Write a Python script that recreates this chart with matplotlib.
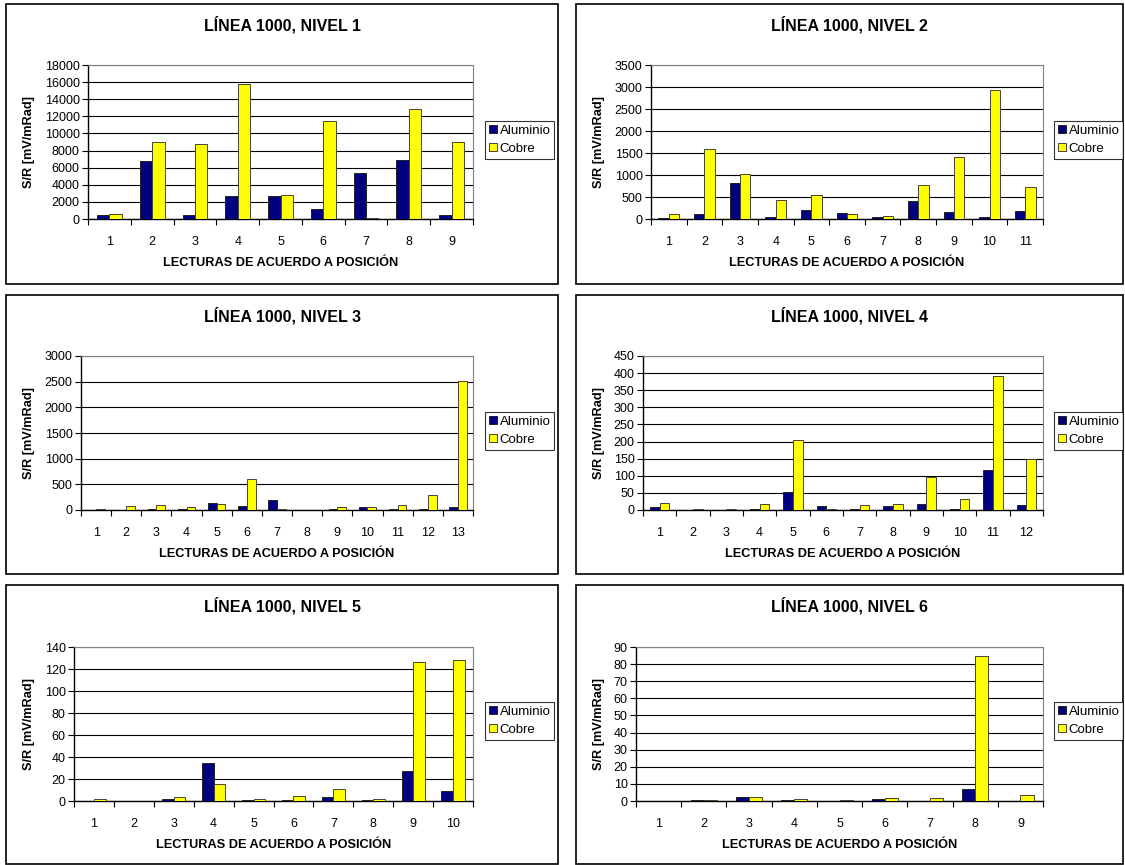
import matplotlib
matplotlib.use("Agg")
import matplotlib.pyplot as plt
from matplotlib.patches import Rectangle, Patch
import numpy as np

plt.rcParams['font.family'] = ['Liberation Sans', 'DejaVu Sans']

W, H = 1125, 865

titles = ["LÍNEA 1000, NIVEL 1", "LÍNEA 1000, NIVEL 2", "LÍNEA 1000, NIVEL 3",
          "LÍNEA 1000, NIVEL 4", "LÍNEA 1000, NIVEL 5", "LÍNEA 1000, NIVEL 6"]
series_names = ["Aluminio", "Cobre"]
xlabel = "LECTURAS DE ACUERDO A POSICIÓN"
ylabel = "S/R [mV/mRad]"

aluminio_n1 = [510, 6800, 510, 2650, 2650, 1220, 5400, 6900, 510]
cobre_n1 = [590, 9000, 8800, 15800, 2750, 11400, 170, 12800, 9000]

aluminio_n2 = [30, 114, 820, 53, 212, 144, 53, 417, 167, 53, 190]
cobre_n2 = [114, 1590, 1020, 440, 545, 114, 76, 780, 1410, 2930, 730]

aluminio_n3 = [5, 0, 12, 12, 140, 75, 190, 0, 12, 50, 12, 12, 50]
cobre_n3 = [15, 70, 105, 50, 120, 610, 15, 0, 50, 50, 105, 300, 2510]

aluminio_n4 = [8, 1, 1, 3, 52, 12, 3, 11, 18, 4, 118, 15]
cobre_n4 = [19, 3, 3, 17, 205, 3, 14, 17, 96, 31, 392, 150]

aluminio_n5 = [0, 0, 2, 35, 1, 1, 4, 1, 27, 9.3]
cobre_n5 = [2, 0, 4, 15.5, 2, 5, 11, 2, 126, 128]

aluminio_n6 = [0, 0.5, 2.3, 0.5, 0, 1.0, 0, 7, 0]
cobre_n6 = [0, 0.5, 2.3, 1.0, 0.5, 1.7, 1.7, 85, 3.5]

ymax = [18000, 3500, 3000, 450, 140, 90]
ystep = [2000, 500, 500, 50, 20, 10]

data = [(aluminio_n1, cobre_n1), (aluminio_n2, cobre_n2), (aluminio_n3, cobre_n3),
        (aluminio_n4, cobre_n4), (aluminio_n5, cobre_n5), (aluminio_n6, cobre_n6)]

# layout in pixels: panel box, axes box, legend box
boxes = [(6, 4, 558, 284), (576, 4, 1123, 284),
         (6, 295, 558, 574), (576, 295, 1123, 574),
         (6, 585, 558, 864), (576, 585, 1123, 864)]
axboxes = [(88, 65, 473, 219), (651, 65, 1043, 219),
           (81, 356, 473, 510), (643, 356, 1043, 510),
           (74, 647, 473, 801), (636, 647, 1043, 801)]
legpos = [(485, 121), (1054, 121), (485, 412), (1054, 412), (485, 702), (1054, 702)]

colors = ["#000080", "#FFFF00"]

fig = plt.figure(figsize=(W / 100, H / 100), dpi=100)


def fx(x):
    return x / W


def fy(y):
    return 1 - y / H


for i in range(6):
    bx0, by0, bx1, by1 = boxes[i]
    fig.add_artist(Rectangle((fx(bx0), fy(by1)), fx(bx1 - bx0), (by1 - by0) / H,
                             transform=fig.transFigure, fill=False,
                             edgecolor="black", linewidth=1.2))
    ax0, ay0, ax1, ay1 = axboxes[i]
    ax = fig.add_axes([fx(ax0), fy(ay1), fx(ax1 - ax0), (ay1 - ay0) / H])
    al, cu = data[i]
    n = len(al)
    x = np.arange(1, n + 1)
    bw = 0.29
    ax.bar(x - bw / 2, al, bw, color=colors[0], edgecolor="#222222", linewidth=0.7, zorder=3)
    ax.bar(x + bw / 2, cu, bw, color=colors[1], edgecolor="#444433", linewidth=0.7, zorder=3)
    ax.set_xlim(0.5, n + 0.5)
    ax.set_ylim(0, ymax[i])
    yt = np.arange(0, ymax[i] + ystep[i] / 2, ystep[i])
    ax.set_yticks(yt)
    ax.set_yticklabels([str(int(v)) for v in yt], fontsize=9)
    ax.yaxis.grid(True, color="black", linewidth=0.8, zorder=0)
    ax.set_axisbelow(True)
    ax.set_xticks(np.arange(0.5, n + 1, 1))
    ax.set_xticklabels([])
    ax.set_xticks(x, minor=True)
    ax.set_xticklabels([str(v) for v in x], minor=True, fontsize=9)
    ax.tick_params(axis="x", which="minor", length=0, pad=12)
    ax.tick_params(axis="x", which="major", length=4, direction="out", width=0.8)
    ax.tick_params(axis="y", length=4, direction="out", width=0.8, pad=2)
    for s in ["top", "right"]:
        ax.spines[s].set_color("#808080")
        ax.spines[s].set_linewidth(0.8)
    for s in ["left", "bottom"]:
        ax.spines[s].set_color("black")
        ax.spines[s].set_linewidth(1.0)
    # title and labels
    fig.text(fx((bx0 + bx1) / 2), fy(by0 + 21), titles[i], ha="center", va="center",
             fontsize=11.5, fontweight="bold")
    fig.text(fx((ax0 + ax1) / 2), fy(ay1 + 44), xlabel, ha="center", va="center",
             fontsize=9.2, fontweight="bold")
    fig.text(fx(bx0 + 23), fy((ay0 + ay1) / 2), ylabel, ha="center", va="center",
             rotation=90, fontsize=9.2, fontweight="bold")
    # legend
    lx0, ly0 = legpos[i]
    handles = [Patch(facecolor=colors[0], edgecolor="#222222", linewidth=0.7),
               Patch(facecolor=colors[1], edgecolor="#444433", linewidth=0.7)]
    leg = fig.legend(handles, series_names, loc="upper left",
                     bbox_to_anchor=(fx(lx0), fy(ly0)), bbox_transform=fig.transFigure,
                     fontsize=9.5, frameon=True, fancybox=False, handlelength=0.6,
                     handleheight=0.6, handletextpad=0.2, borderpad=0.3,
                     labelspacing=0.45, borderaxespad=0)
    leg.get_frame().set_edgecolor("black")
    leg.get_frame().set_linewidth(0.8)

fig.savefig("out.png", dpi=100)
